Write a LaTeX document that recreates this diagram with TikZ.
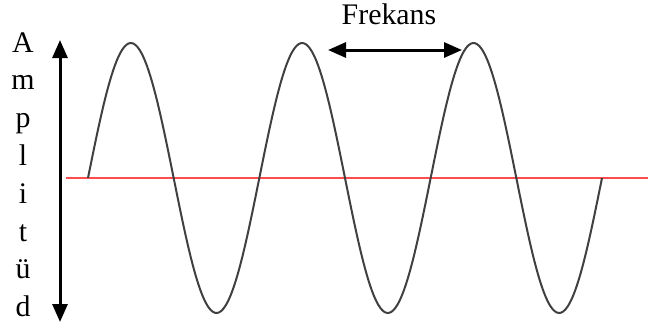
\documentclass[tikz,border=0pt]{standalone}
\usepackage{fontspec}
\setmainfont{Liberation Serif}
\usetikzlibrary{arrows.meta}

\tikzset{
  bigtext/.style={font=\fontsize{30}{36}\selectfont, inner sep=0pt},
  dblarrow/.style={line width=3bp,
                   {Triangle[width=15bp,length=18bp]}-{Triangle[width=15bp,length=18bp]}},
  waveline/.style={black!75, line width=2bp},
  zeroline/.style={red!70!white, line width=2.5bp}
}

\begin{document}
\begin{tikzpicture}[x=1bp, y=-1bp]
  \useasboundingbox (0,0) rectangle (648,324);

  \coordinate (amptop) at (60,40);
  \coordinate (ampbot) at (60,322);
  \coordinate (zerol) at (66,178);
  \coordinate (zeror) at (648,178);
  \coordinate (frekl) at (328,50);
  \coordinate (frekr) at (462,50);

  % letters of the vertical label
  \foreach \ch [count=\i from 0] in {A,m,p,l,i,t,ü,d} {
    \node[bigtext, anchor=base] (amp\i) at (23, 52+37.8*\i) {\ch};
  }
  \node[bigtext, anchor=base] (freklabel) at (389,24) {Frekans};

  \draw[zeroline] (zerol) -- (zeror);
  \draw[waveline] plot[domain=88:602, samples=240, smooth]
    (\x, {178-135*sin(2.1012*(\x-88))});

  \draw[dblarrow] (amptop) -- (ampbot);
  \draw[dblarrow] (frekl) -- (frekr);
\end{tikzpicture}
\end{document}
